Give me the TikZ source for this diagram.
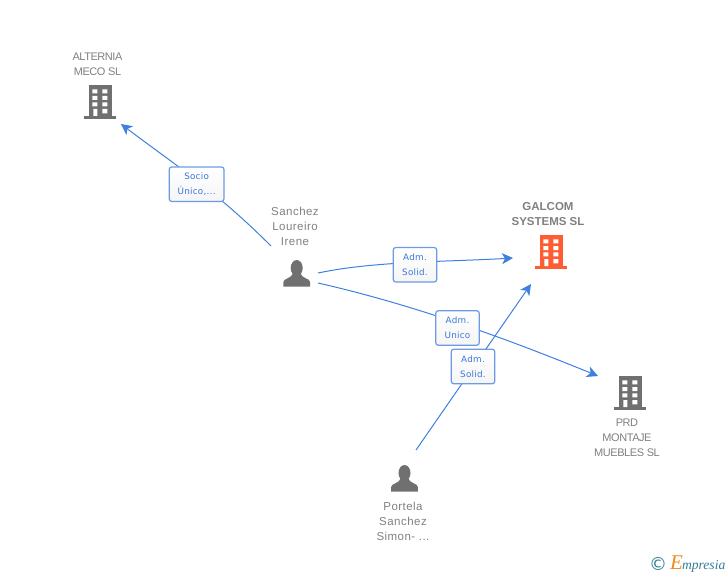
\documentclass[tikz,border=0pt]{standalone}
\usepackage{fontspec}
\setmainfont{Liberation Sans}
\newfontfamily\capsfont[LetterSpace=-4]{Liberation Sans}
\newfontfamily\persfont[LetterSpace=4]{Liberation Sans}
\newfontfamily\lblfont[LetterSpace=3]{DejaVu Sans}
\newfontfamily\copyfont{DejaVu Sans}
\newfontfamily\logofont{Liberation Serif}
\usetikzlibrary{arrows.meta}
\definecolor{txtgray}{HTML}{808080}
\definecolor{icongray}{HTML}{707070}
\definecolor{iconred}{HTML}{FF5C33}
\definecolor{linkblue}{HTML}{3F7FE0}
\definecolor{boxblue}{HTML}{6C9AE4}
\definecolor{lbltxt}{HTML}{3B78D8}
\definecolor{logoteal}{HTML}{2F7F96}
\definecolor{logoorange}{HTML}{F08A1D}
\tikzset{
  x=1pt,y=-1pt,
  nametext/.style={font=\fontsize{11}{15}\capsfont,text=txtgray,align=center,inner sep=0pt},
  persontext/.style={font=\fontsize{11.5}{15}\persfont,text=txtgray,align=center,inner sep=0pt},
  boldtext/.style={font=\fontsize{11.5}{15}\selectfont\bfseries,text=txtgray,align=center,inner sep=0pt},
  linkbox/.style={draw=boxblue,line width=1.2pt,rounded corners=2.5pt,top color=white,bottom color=white!96!black,
     minimum width=43.5pt,minimum height=34.5pt,inner sep=0pt,align=center,text=lbltxt,
     font=\fontsize{8.8}{15}\lblfont},
  link/.style={draw=linkblue,line width=1pt,-{Stealth[length=11pt,width=11pt,inset=3pt]}},
  pics/building/.style={code={
    \fill[#1] (-10.7,0) rectangle (11.7,32);
    \fill[#1] (-16,31) rectangle (16,33.7);
    \fill[white]
      (-7.7,4.3) rectangle (-2.7,8.3) (2.3,4.3) rectangle (7.3,8.3)
      (-7.7,11) rectangle (-2.7,15) (2.3,11) rectangle (7.3,15)
      (-7.7,17.3) rectangle (-2.7,21.3) (2.3,17.3) rectangle (7.3,21.3)
      (-6.7,24) rectangle (-2.7,31) (2.3,24) rectangle (7.3,28.3);
  }},
  pics/person/.style={code={
    \fill[icongray] (0,0) ellipse (6 and 8);
    \fill[icongray] (-13.4,18.7) -- (-13.4,14) .. controls (-13.4,10.5) and (-5,10.5) .. (-3.5,5)
      -- (3.5,5) .. controls (5,10.5) and (13.4,10.5) .. (13.4,14) -- (13.4,18.7) -- cycle;
  }},
}
\begin{document}
\begin{tikzpicture}
\useasboundingbox (0,0) rectangle (728,575);
% entities
\pic at (100,85) {building=icongray};
\pic at (551,235) {building=iconred};
\pic at (630,376) {building=icongray};
\pic at (296.7,268) {person};
\pic at (404.5,473) {person};
% names
\node[nametext] (alternia) at (97.5,64) {ALTERNIA\\MECO SL};
\node[boldtext] (galcom) at (548,214) {GALCOM\\SYSTEMS SL};
\node[nametext] (prd) at (627,437.5) {PRD\\MONTAJE\\MUEBLES SL};
\node[persontext] (sanchez) at (295,226) {Sanchez\\Loureiro\\Irene};
\node[persontext] (portela) at (403,521) {Portela\\Sanchez\\Simon- ...};
% connector ends
\coordinate (altEnd) at (121,124);
\coordinate (sanA) at (271,246);
\coordinate (sanB) at (318,273);
\coordinate (sanC) at (318,283);
\coordinate (galEndA) at (513,258);
\coordinate (galEndB) at (531,284);
\coordinate (prdEnd) at (598,376);
\coordinate (porA) at (416,450);
% connectors
\draw[link] (sanA) .. controls (215,190) and (175,165) .. (altEnd);
\draw[link] (sanB) .. controls (375,261) and (445,262) .. (galEndA);
\draw[link] (sanC) .. controls (415,305) and (510,340) .. (prdEnd);
\draw[link] (porA) -- (galEndB);
% labels
\node[linkbox,minimum width=54.7pt] (l1) at (196.6,184.2) {Socio\\Único,...};
\node[linkbox] (l2) at (415,264.8) {Adm.\\Solid.};
\node[linkbox] (l3) at (457.5,328) {Adm.\\Unico};
\node[linkbox] (l4) at (473,366.5) {Adm.\\Solid.};
% logo
\node[inner sep=0pt,text=logoteal,font=\fontsize{18}{18}\copyfont] (copy) at (658,564) {©};
\node[inner sep=0pt,anchor=base west,font=\fontsize{13.6}{13}\logofont\itshape] (logo) at (670,569)
  {\textcolor{logoorange}{\fontsize{21}{21}\selectfont E}\textcolor{logoteal}{\kern-1pt mpresia}};
\end{tikzpicture}
\end{document}
